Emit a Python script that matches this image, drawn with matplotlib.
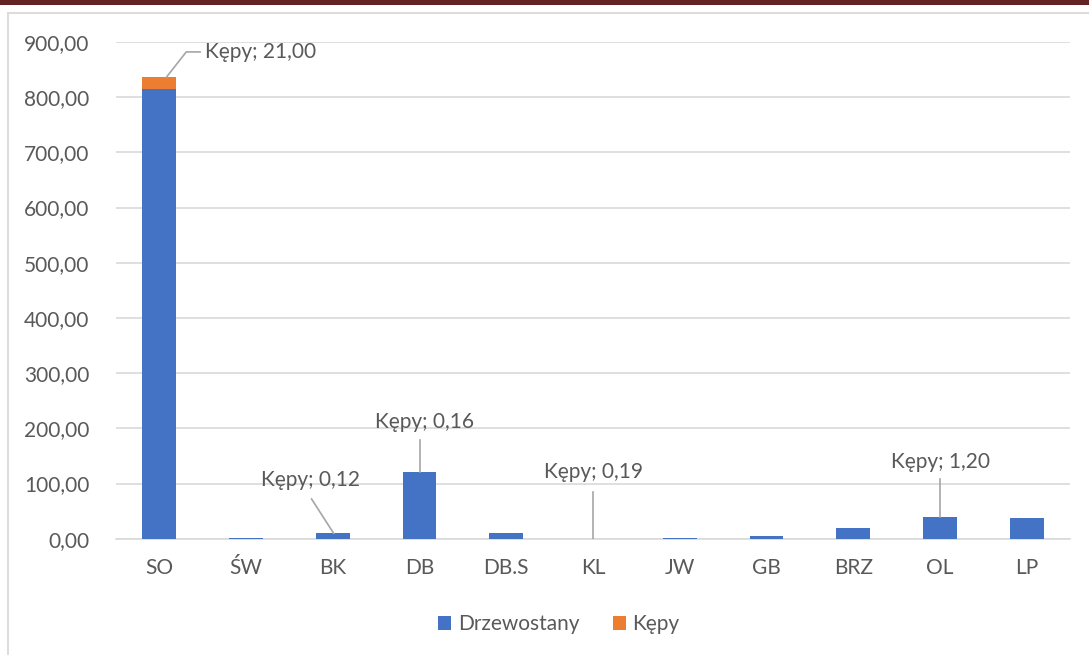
import matplotlib
matplotlib.use("Agg")
import matplotlib.pyplot as plt
from matplotlib.lines import Line2D
from matplotlib.patches import Rectangle
import numpy as np

categories = ["SO", "ŚW", "BK", "DB", "DB.S", "KL", "JW", "GB", "BRZ", "OL", "LP"]
drzewostany = [815.0, 1.5, 9.5, 120.0, 10.5, 0.1, 0.6, 4.0, 19.5, 38.5, 37.0]
kepy = [21.0, 0.0, 0.12, 0.16, 0.0, 0.19, 0.0, 0.0, 0.0, 1.20, 0.0]
yticks = [0, 100, 200, 300, 400, 500, 600, 700, 800, 900]

plt.rcParams['font.family'] = ['Lato', 'DejaVu Sans']
BLUE = "#4472C4"
ORANGE = "#ED7D31"
TXT = "#595959"
FS = 15

W, H = 1089, 655
fig = plt.figure(figsize=(W/100, H/100), dpi=100)

# decorations: top dark red band, chart border
fig.add_artist(Rectangle((0, 1 - 5/H), 1, 5/H, transform=fig.transFigure,
                         facecolor="#642222", edgecolor="none"))
fig.add_artist(Line2D([8/W, 8/W], [0, 1 - 13/H], transform=fig.transFigure,
                      color="#d9d9d9", lw=1.3))
fig.add_artist(Line2D([8/W, 1], [1 - 13/H, 1 - 13/H], transform=fig.transFigure,
                      color="#d9d9d9", lw=1.3))

ax_left, ax_right = 116/W, 1070/W
ax_bottom, ax_top = 1 - 538.7/H, 1 - 42/H
ax = fig.add_axes([ax_left, ax_bottom, ax_right - ax_left, ax_top - ax_bottom])

x = np.arange(len(categories))
bw = 0.39
ax.bar(x, drzewostany, width=bw, color=BLUE, label="Drzewostany", zorder=3)
ax.bar(x, kepy, width=bw, bottom=drzewostany, color=ORANGE, label="Kępy", zorder=3)

ax.set_xlim(-0.5, len(categories) - 0.5)
ax.set_ylim(0, 900)
ax.set_yticks(yticks)
ax.set_yticklabels([f"{v:.2f}".replace(".", ",") for v in yticks])
ax.set_xticks(x)
ax.set_xticklabels(categories)
ax.tick_params(axis='both', length=0, labelsize=FS, labelcolor=TXT)
ax.tick_params(axis='y', pad=19)
ax.tick_params(axis='x', pad=14)
ax.grid(axis='y', color="#d9d9d9", lw=1.2, zorder=0)
for s in ["top", "right", "left"]:
    ax.spines[s].set_visible(False)
ax.spines["bottom"].set_color("#d9d9d9")
ax.spines["bottom"].set_linewidth(1.2)

def fmt(v):
    return "Kępy; " + f"{v:.2f}".replace(".", ",")

tops = [d + k for d, k in zip(drzewostany, kepy)]
lc = "#a6a6a6"
# SO label
i = 0
ax.plot([i + 0.08, i + 0.31, i + 0.47], [tops[i], 882, 882], color=lc, lw=1.2, zorder=4)
ax.text(i + 0.525, 882, fmt(kepy[i]), ha="left", va="center", fontsize=FS, color=TXT)
# BK
i = 2
ax.plot([i - 0.245, i + 0.01], [72, tops[i]], color=lc, lw=1.2, zorder=4)
ax.text(i - 0.263, 106, fmt(kepy[i]), ha="center", va="center", fontsize=FS, color=TXT)
# DB
i = 3
ax.plot([i, i], [179, tops[i]], color=lc, lw=1.2, zorder=4)
ax.text(i + 0.057, 212, fmt(kepy[i]), ha="center", va="center", fontsize=FS, color=TXT)
# KL
i = 5
ax.plot([i, i], [85, tops[i]], color=lc, lw=1.2, zorder=4)
ax.text(i + 0.005, 121, fmt(kepy[i]), ha="center", va="center", fontsize=FS, color=TXT)
# OL
i = 9
ax.plot([i, i], [108, tops[i]], color=lc, lw=1.2, zorder=4)
ax.text(i + 0.005, 139, fmt(kepy[i]), ha="center", va="center", fontsize=FS, color=TXT)

leg = fig.legend(loc="center", bbox_to_anchor=(0.513, 1 - 624/H), ncol=2, frameon=False,
                 fontsize=FS, handlelength=0.65, handleheight=0.65, handletextpad=0.3,
                 columnspacing=1.6)
for t in leg.get_texts():
    t.set_color(TXT)

fig.savefig("out.png", dpi=100, facecolor="white")
